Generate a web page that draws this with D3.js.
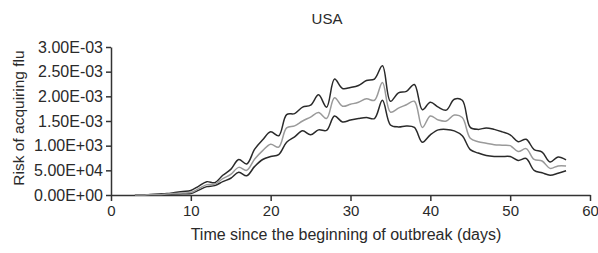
<!DOCTYPE html>
<html><head><meta charset="utf-8">
<script src="https://cdn.jsdelivr.net/npm/d3@7"></script>
<style>body{margin:0;background:#fff}svg{display:block}text{font-family:"Liberation Sans",Arial,sans-serif;fill:#2a2a2a}</style>
</head><body><svg id="c" width="598" height="253"></svg>
<script>
const days = d3.range(3, 58);
const upper = [0.00,0.00,0.01,0.02,0.03,0.05,0.07,0.09,0.18,0.27,0.25,0.40,0.52,0.72,0.63,0.93,1.12,1.28,1.20,1.63,1.65,1.78,1.82,2.03,1.78,2.35,2.16,2.18,2.22,2.32,2.35,2.62,1.90,2.07,2.10,2.24,1.73,1.88,1.78,1.72,1.94,1.92,1.37,1.33,1.36,1.33,1.28,1.22,1.08,1.13,0.92,0.87,0.67,0.77,0.71];
const mean  = [0.00,0.00,0.01,0.01,0.02,0.03,0.04,0.05,0.13,0.21,0.22,0.33,0.42,0.56,0.50,0.73,0.90,1.03,0.97,1.36,1.40,1.50,1.58,1.67,1.55,1.97,1.80,1.84,1.88,1.95,1.92,2.28,1.68,1.76,1.83,1.90,1.37,1.60,1.52,1.50,1.62,1.57,1.15,1.08,1.05,1.02,1.01,1.00,0.88,0.94,0.72,0.69,0.54,0.59,0.59];
const lower = [0.00,0.00,0.005,0.01,0.015,0.02,0.025,0.03,0.10,0.17,0.19,0.27,0.34,0.46,0.39,0.58,0.72,0.78,0.82,1.07,1.18,1.30,1.22,1.32,1.31,1.60,1.48,1.52,1.55,1.57,1.55,1.92,1.42,1.38,1.40,1.37,1.07,1.22,1.32,1.33,1.30,1.20,0.92,0.85,0.80,0.78,0.78,0.78,0.70,0.74,0.50,0.45,0.40,0.44,0.49];
const xTicks = [0,10,20,30,40,50,60];
const yTicks = [0,0.5,1.0,1.5,2.0,2.5,3.0];
const yTickLabels = ["0.00E+00","5.00E+04","1.00E+03","1.50E-03","2.00E-03","2.50E-03","3.00E-03"];
const title = "USA";
const xTitle = "Time since the beginning of outbreak (days)";
const yTitle = "Risk of acquiring flu";

const svg = d3.select("#c");
const x = d3.scaleLinear().domain([0,60]).range([111,590]);
const y = d3.scaleLinear().domain([0,3]).range([195,47]);

const xa = svg.append("g").attr("transform","translate(0,195)")
  .call(d3.axisBottom(x).tickValues(xTicks).tickSize(6).tickPadding(4).tickSizeOuter(0));
const ya = svg.append("g").attr("transform","translate(111,0)")
  .call(d3.axisLeft(y).tickValues(yTicks).tickFormat((d,i)=>yTickLabels[i]).tickSize(5).tickPadding(3).tickSizeOuter(0));
[xa,ya].forEach(g=>{
  g.selectAll("path,line").attr("stroke","#333").attr("stroke-width",1.5);
  g.selectAll("text").attr("fill","#2a2a2a").style("font-family",'"Liberation Sans",Arial,sans-serif');
});
xa.selectAll("text").style("font-size","15px");
ya.selectAll("text").style("font-size","16px");

const line = d3.line().x((d,i)=>x(days[i])).y(d=>y(d)).curve(d3.curveCatmullRom.alpha(0.5));
[[upper,"#2a2a2a"],[lower,"#2a2a2a"],[mean,"#9a9a9a"]].forEach(([s,c])=>{
  svg.append("path").attr("d",line(s)).attr("fill","none").attr("stroke",c).attr("stroke-width",1.5);
});

svg.append("text").attr("x",327).attr("y",24).attr("text-anchor","middle").style("font-size","15px").text(title);
svg.append("text").attr("x",346).attr("y",240).attr("text-anchor","middle").style("font-size","16px").text(xTitle);
svg.append("text").attr("transform","translate(24,118) rotate(-90)").attr("text-anchor","middle").style("font-size","15.5px").text(yTitle);
</script></body></html>
